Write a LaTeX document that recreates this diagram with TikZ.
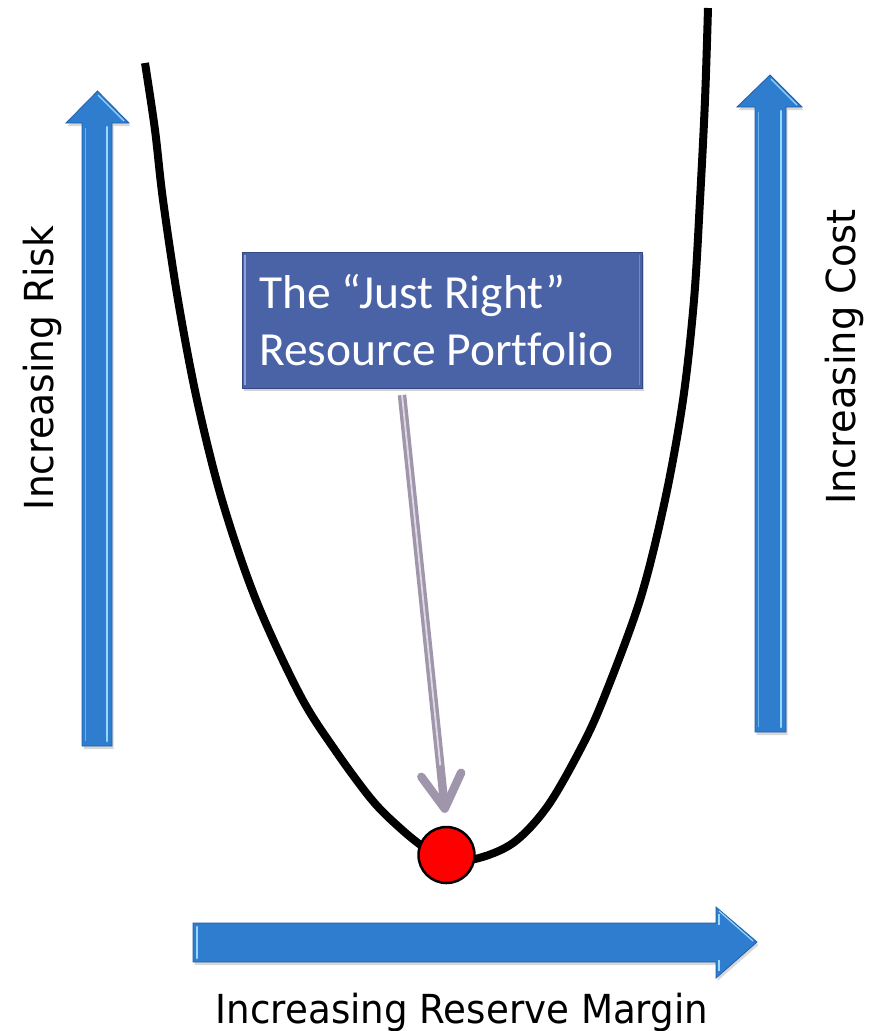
\documentclass[tikz,border=0pt]{standalone}
\usepackage{fontspec}
\setmainfont{DejaVu Sans}
\newfontfamily\boxfont[Ligatures=NoCommon]{Carlito}
\usetikzlibrary{arrows.meta,shadows,calc}
\definecolor{ablue}{RGB}{46,125,207}
\definecolor{ablueD}{RGB}{32,96,168}
\definecolor{ablueL}{RGB}{150,215,255}
\definecolor{boxblue}{RGB}{74,99,167}
\definecolor{boxblueD}{RGB}{52,72,130}
\definecolor{boxblueL}{RGB}{140,165,225}
\definecolor{gptr}{RGB}{160,150,172}
\definecolor{gptrL}{RGB}{222,218,228}
\tikzset{
  bluearrow/.style={fill=ablue, draw=ablueD, line width=0.8pt, line join=miter,
    drop shadow={opacity=0.3, shadow xshift=1.5pt, shadow yshift=-3pt}},
  bevel/.style={draw=ablueL, line width=2.2pt, line cap=round},
  jrbox/.style={rectangle, minimum width=400, minimum height=136, inner sep=0pt,
    fill=boxblue, draw=boxblueD, line width=0.8pt,
    drop shadow={opacity=0.35, shadow xshift=1.5pt, shadow yshift=-3pt}},
  jrtext/.style={inner sep=0pt, text=white, font=\boxfont\fontsize{47.5}{57}\selectfont},
  axislbl/.style={inner sep=0pt, font=\fontsize{40}{48}\selectfont},
  ucurve/.style={draw=black, line width=8pt, line cap=butt},
  reddot/.style={circle, minimum size=56, inner sep=0pt, fill=red, draw=black, line width=2.5pt},
  gshaft/.style={draw=gptr, line width=8.5pt},
  glight/.style={draw=gptrL, line width=1.8pt}
}
\begin{document}
\begin{tikzpicture}[x=1pt,y=-1pt]
\fill[white] (0,0) rectangle (868,1031);
\useasboundingbox (0,0) rectangle (868,1031);

% left blue arrow (Risk)
\path[bluearrow] (82,746) -- (82,123) -- (66,123) -- (97.5,91) -- (129,123) -- (112,123) -- (112,746) -- cycle;
\draw[bevel] (107,127) -- (107,741);
\draw[draw=ablueL, line width=1.2pt] (98,95) -- (124,121);
\draw[draw=ablueL, line width=1pt, opacity=0.6] (85,128) -- (85,741);

% right blue arrow (Cost)
\path[bluearrow] (755,732) -- (755,107) -- (737,107) -- (770,75) -- (802,107) -- (786,107) -- (786,732) -- cycle;
\draw[bevel] (781,111) -- (781,727);
\draw[draw=ablueL, line width=1.2pt] (771,79) -- (797,105);
\draw[draw=ablueL, line width=1pt, opacity=0.6] (758,112) -- (758,727);

% bottom blue arrow (Reserve Margin)
\path[bluearrow] (193,923) -- (716,923) -- (716,907) -- (757,942) -- (716,978) -- (716,962) -- (193,962) -- cycle;
\draw[bevel] (197,927) -- (197,958);
\draw[draw=ablueL, line width=1.5pt] (719,914) -- (719,925);
\draw[draw=ablueL, line width=1.5pt] (719,960) -- (719,971);
\draw[draw=ablueL, line width=1.2pt] (719,911) -- (753,941);

% U curve
\draw[ucurve] plot[smooth, tension=0.55] coordinates {
  (145,63) (155,130) (163,200) (178,300) (197,400) (222,500) (256,600)
  (300,695) (335,750) (372,800) (400,828) (425,848) (447,858)
  (475,859) (513,843) (547,807) (580,750) (603,700) (640,600) (665,500)
  (683,400) (694,300) (700,200) (705,100) (708,8)};

% optimum point
\node[reddot] (dot) at (446.5,855) {};

% the box
\node[jrbox] (box) at (442,320) {};
\draw[draw=boxblueL, line width=2pt] ([xshift=3pt,yshift=-3pt]box.north west) -- ([xshift=3pt,yshift=3pt]box.south west);
\draw[draw=boxblueL, line width=1pt, opacity=0.6] ([xshift=-3pt,yshift=-3pt]box.north east) -- ([xshift=-3pt,yshift=3pt]box.south east);
\node[jrtext, anchor=base west] (t1) at (259,308) {The “Just Right”};
\node[jrtext, anchor=base west] (t2) at (259,365) {Resource Portfolio};

% gray pointer
\coordinate (gs) at (402,395);
\draw[gshaft, -{Straight Barb[round,length=34pt,width=40pt]}, shorten >=13pt] (gs) -- (dot.north);
\draw[glight] (gs) -- ($(gs)!0.86!(dot.north)$);

% labels
\node[axislbl, rotate=90, anchor=base] (risk) at (53,368) {\scalebox{0.94}[1]{Increasing Risk}};
\node[axislbl, rotate=90, anchor=base] (cost) at (855,357) {\scalebox{0.96}[1]{Increasing Cost}};
\node[axislbl, anchor=base] (margin) at (462,1023) {\scalebox{0.93}[1]{Increasing Reserve Margin}};
\end{tikzpicture}
\end{document}
